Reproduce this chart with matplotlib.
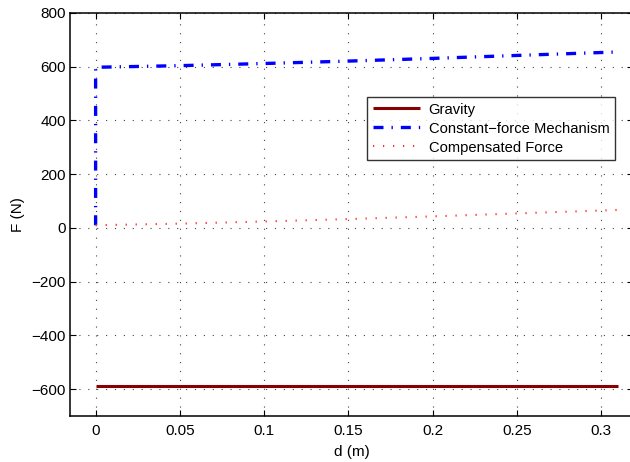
import matplotlib
matplotlib.use("Agg")
import matplotlib.pyplot as plt

# data
grav_d = [0.0, 0.31]
grav_f = [-588, -588]

mech_d = [0.0, 0.0, 0.05, 0.10, 0.15, 0.20, 0.25, 0.31]
mech_f = [10, 598, 604, 612, 621, 631, 642, 655]

comp_d = [0.0, 0.05, 0.10, 0.15, 0.20, 0.25, 0.31]
comp_f = [10, 16, 24, 33, 43, 54, 67]

xticks = [0, 0.05, 0.1, 0.15, 0.2, 0.25, 0.3]
xlabels = ["0", "0.05", "0.1", "0.15", "0.2", "0.25", "0.3"]
yticks = [-600, -400, -200, 0, 200, 400, 600, 800]
ylabels = ["\u2212600", "\u2212400", "\u2212200", "0", "200", "400", "600", "800"]

plt.rcParams["font.family"] = ["Liberation Sans", "DejaVu Sans"]

fig = plt.figure(figsize=(6.3, 4.62), dpi=100)
ax = fig.add_axes([70 / 630, 1 - 416 / 462, 563 / 630, 403 / 462])

ax.plot(grav_d, grav_f, color="#880000", lw=2.2, label="Gravity", solid_capstyle="butt")
ax.plot(mech_d, mech_f, color="#0000FF", lw=2.4, ls=(0, (3.0, 2.4, 0.4, 2.4)),
        label="Constant\u2212force Mechanism")
ax.plot(comp_d, comp_f, color="#FF3030", lw=1.5, ls=(0, (0.6, 4.2)),
        label="Compensated Force")

ax.set_xlim(-0.0152, 0.319)
ax.set_ylim(-700, 800)
ax.set_xticks(xticks)
ax.set_xticklabels(xlabels)
ax.set_yticks(yticks)
ax.set_yticklabels(ylabels)
ax.tick_params(direction="in", labelsize=11, length=4, width=0.8,
               top=True, right=True)
ax.tick_params(axis="x", pad=6)
ax.tick_params(axis="y", pad=3)
ax.grid(True, ls=(0, (1, 7)), color="#444444", lw=0.8)
for s in ax.spines.values():
    s.set_linewidth(1.1)

ax.set_xlabel("d (m)", fontsize=11, labelpad=5)
ax.set_ylabel("F (N)", fontsize=11, labelpad=5)

leg = ax.legend(loc="upper left", bbox_to_anchor=((367 - 70) / 563, (416 - 97) / 403),
                fontsize=10.6, frameon=True, fancybox=False, borderaxespad=0,
                handlelength=3.2, labelspacing=0.34, borderpad=0.38, handletextpad=0.6)
leg.get_frame().set_edgecolor("black")
leg.get_frame().set_linewidth(1.0)

fig.savefig("out.png", dpi=100, facecolor="white")
